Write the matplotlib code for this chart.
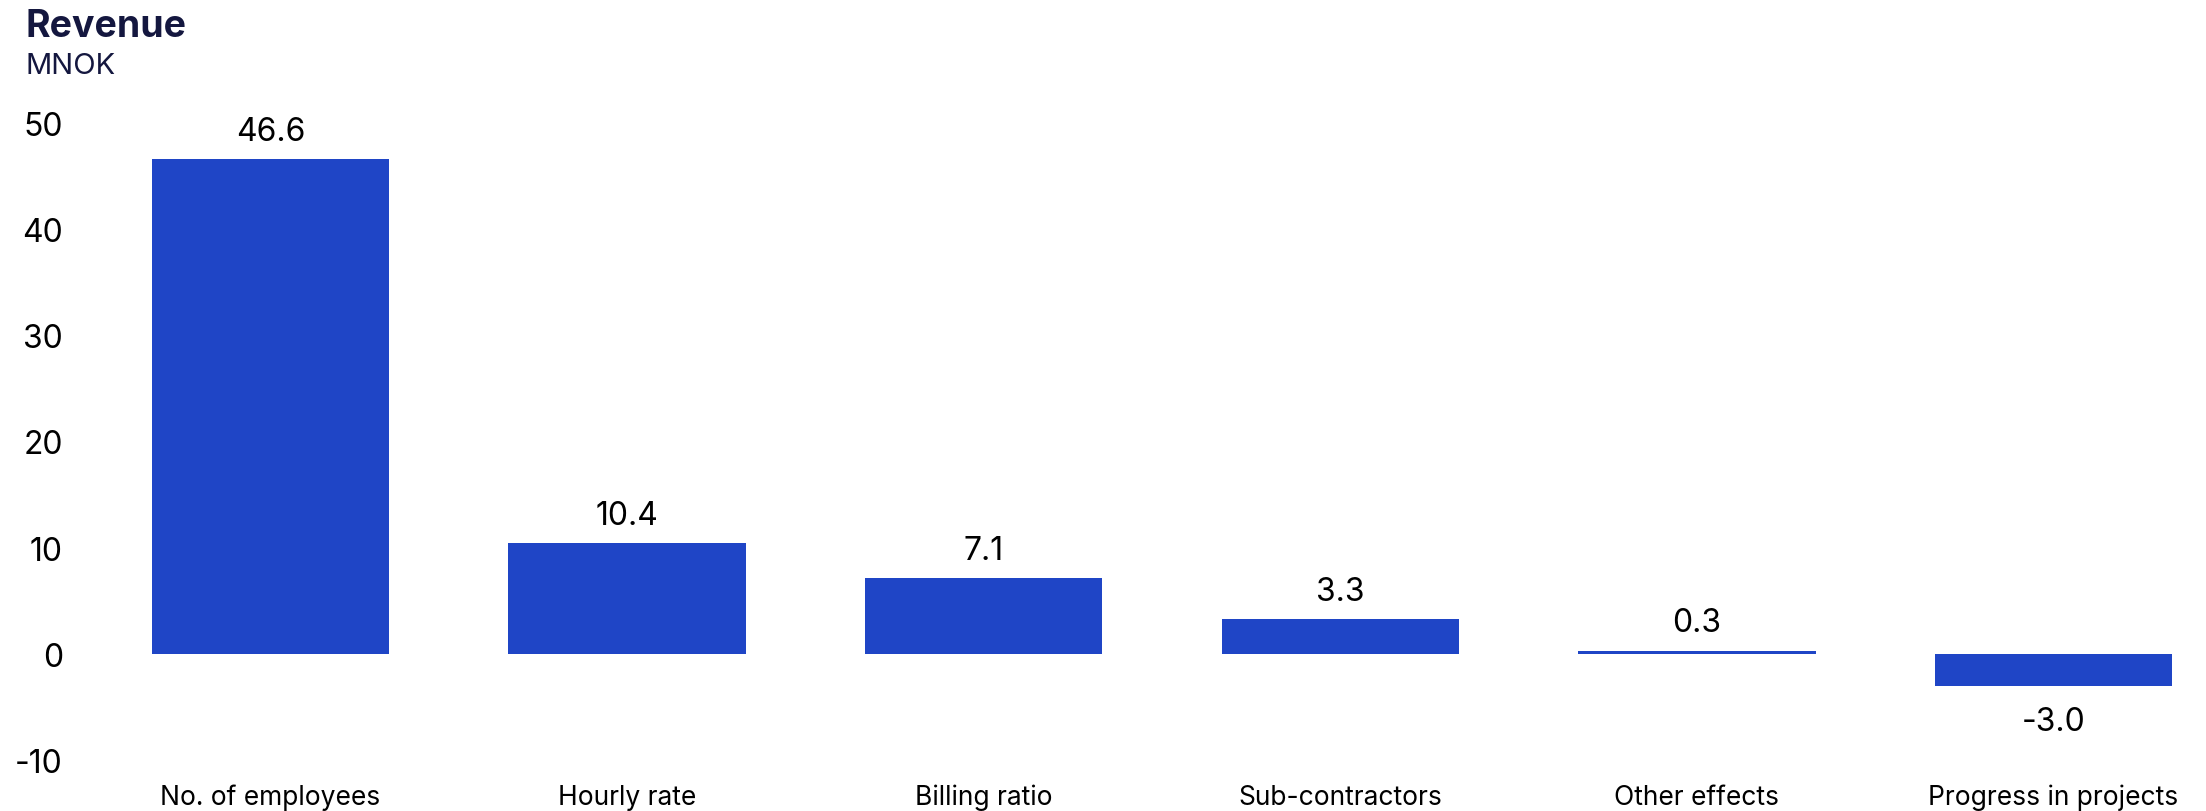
import matplotlib
matplotlib.use("Agg")
import matplotlib.pyplot as plt

categories = ["No. of employees", "Hourly rate", "Billing ratio",
              "Sub-contractors", "Other effects", "Progress in projects"]
values = [46.6, 10.4, 7.1, 3.3, 0.3, -3.0]
yticks = [-10, 0, 10, 20, 30, 40, 50]

BAR = "#1f45c6"
NAVY = "#14173f"
FONT = ["Inter", "DejaVu Sans"]

plt.rcParams["font.family"] = FONT

fig = plt.figure(figsize=(22.06, 8.12), dpi=100)
ax = fig.add_axes([92 / 2206, (812 - 761) / 812, (2182 - 92) / 2206, (761 - 124) / 812])

x = list(range(len(categories)))
ax.bar(x, values, width=0.665, color=BAR, zorder=2)

for xi, v in zip(x, values):
    off = 20 if v >= 0 else -25.5
    ax.annotate(f"{v:.1f}", (xi, v), xytext=(0, off), textcoords="offset points",
                ha="center", va="center", fontsize=23, color="black",
                annotation_clip=False)

ax.set_xlim(-0.5, 5.36)
ax.set_ylim(-10, 50)
ax.set_yticks(yticks)
ax.set_yticklabels([str(t) for t in yticks])
ax.set_xticks(x)
ax.set_xticklabels(categories)
ax.tick_params(axis="y", length=0, labelsize=23, colors="black", pad=21)
ax.tick_params(axis="x", length=0, labelsize=19, colors="black", pad=17)
for s in ax.spines.values():
    s.set_visible(False)

fig.text(25 / 2206, 1 - 37 / 812, "Revenue", fontsize=27, fontweight="bold",
         color=NAVY, ha="left", va="baseline")
fig.text(25 / 2206, 1 - 74 / 812, "MNOK", fontsize=21, color=NAVY,
         ha="left", va="baseline")

fig.savefig("out.png", dpi=100, facecolor="white")
